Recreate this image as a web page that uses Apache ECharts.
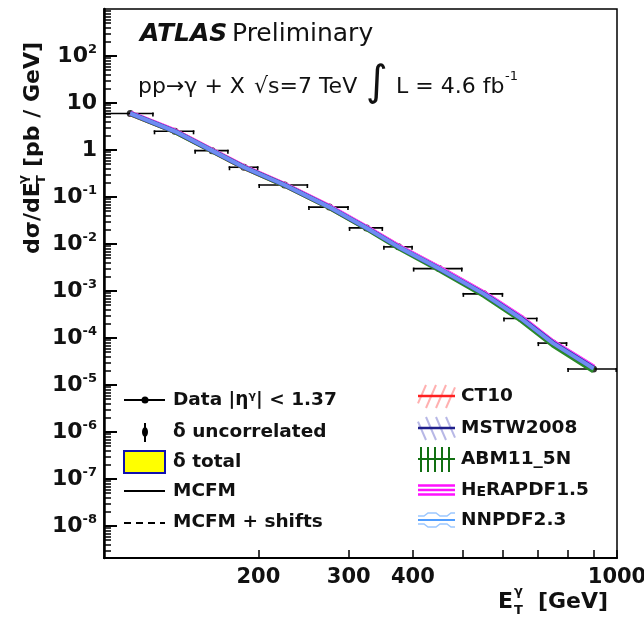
<!DOCTYPE html>
<html><head><meta charset="utf-8">
<script src="https://cdn.jsdelivr.net/npm/echarts@6/dist/echarts.min.js"></script>
<style>html,body{margin:0;padding:0;background:#fff}#c{width:644px;height:622px}</style>
</head><body><div id="c"></div>
<script>
// ---- data ----
const binLow    = [100, 125, 150, 175, 200, 250, 300, 350, 400, 500, 600, 700, 800];
const binHigh   = [125, 150, 175, 200, 250, 300, 350, 400, 500, 600, 700, 800, 1000];
const binCenter = [112.5, 137.5, 162.5, 187.5, 225, 275, 325, 375, 450, 550, 650, 750, 900];
const dataXsec  = [6.0, 2.5, 0.97, 0.43, 0.18, 0.061, 0.022, 0.0087, 0.0030, 8.7e-4, 2.6e-4, 7.8e-5, 2.2e-5];
const ct10      = [6.0, 2.5, 0.97, 0.43, 0.181, 0.0612, 0.0221, 0.0088, 0.00306, 8.9e-4, 2.7e-4, 8.1e-5, 2.35e-5];
const mstw2008  = [6.0, 2.5, 0.97, 0.43, 0.18, 0.061, 0.022, 0.0087, 0.0030, 8.8e-4, 2.65e-4, 8.0e-5, 2.3e-5];
const abm11     = [5.9, 2.45, 0.955, 0.423, 0.177, 0.0595, 0.0213, 0.0083, 0.00282, 8.1e-4, 2.4e-4, 7.1e-5, 2.0e-5];
const herapdf   = [6.05, 2.52, 0.98, 0.435, 0.182, 0.062, 0.0224, 0.0089, 0.0031, 9.0e-4, 2.75e-4, 8.2e-5, 2.4e-5];
const nnpdf     = [6.0, 2.5, 0.97, 0.43, 0.18, 0.061, 0.022, 0.0087, 0.0030, 8.7e-4, 2.6e-4, 7.8e-5, 2.25e-5];

const xTickValues  = [200, 300, 400, 500, 600, 700, 800, 900, 1000];
const xLabelValues = [200, 300, 400, 1000];
const yTickValues  = [1e-8, 1e-7, 1e-6, 1e-5, 1e-4, 1e-3, 1e-2, 1e-1, 1, 10, 100];
const yMin = 2.09e-9, yMax = 1000;

const yMinorTicks = [];
for (let e = -9; e <= 2; e++) for (let m = 2; m <= 9; m++) {
  const v = m * Math.pow(10, e);
  if (v > yMin && v < yMax) yMinorTicks.push(v);
}

const FF = '"DejaVu Sans"';
const chart = echarts.init(document.getElementById('c'), null, {renderer: 'canvas'});

function pts(arr) { return binCenter.map((x, i) => [x, arr[i]]); }
function theory(name, arr, color, width) {
  return {name, type: 'line', data: pts(arr), showSymbol: false, symbol: 'none',
    lineStyle: {color, width}, silent: true, animation: false};
}
function txt(x, y, text, font, align, extra) {
  return Object.assign({type: 'text', x, y, style: {text, font, fill: '#111',
    align: align || 'left', textAlign: align || 'left', verticalAlign: 'middle', textVerticalAlign: 'middle'}}, extra || {});
}
function ln(x1, y1, x2, y2, stroke, w, dash) {
  return {type: 'line', shape: {x1, y1, x2, y2}, style: {stroke, lineWidth: w, lineDash: dash || null}};
}

const L = 124, R = 165, TX = 173;
const RL = 418, RR = 455, RTX = 461;
const graphics = [];
graphics.push(txt(140, 34, 'ATLAS', 'italic bold 25px ' + FF));
graphics.push(txt(232, 34, 'Preliminary', '25px ' + FF));
graphics.push(txt(138, 87, 'pp→γ + X', '22px ' + FF));
graphics.push(txt(254, 87, '√s=7 TeV', '22px ' + FF));
graphics.push(txt(366, 84, '∫', '42px ' + FF));
graphics.push(txt(396, 87, 'L = 4.6 fb', '22px ' + FF));
graphics.push(txt(505, 77, '-1', '13px ' + FF));
graphics.push({type: 'group', x: 33, y: 254, rotation: Math.PI / 2, children: [
  txt(0, 0, 'dσ/dE', 'bold 22px ' + FF),
  txt(70, -9, 'γ', 'bold 13px ' + FF),
  txt(70, 9, 'T', 'bold 13px ' + FF),
  txt(87, 0, '[pb / GeV]', 'bold 22px ' + FF)
]});
graphics.push(txt(498, 602, 'E', 'bold 22px ' + FF));
graphics.push(txt(514, 592, 'γ', 'bold 13px ' + FF));
graphics.push(txt(514, 611, 'T', 'bold 13px ' + FF));
graphics.push(txt(608, 602, '[GeV]', 'bold 22px ' + FF, 'right'));
const LF = 'bold 18.5px ' + FF;
graphics.push(ln(L, 400, R, 400, '#000', 2));
graphics.push({type: 'circle', shape: {cx: 145, cy: 400, r: 3.5}, style: {fill: '#000'}});
graphics.push({type: 'text', x: TX, y: 400, style: {text: 'Data |η{s|γ}| < 1.37', font: LF, fill: '#111',
  align: 'left', textAlign: 'left', verticalAlign: 'middle', textVerticalAlign: 'middle',
  rich: {s: {font: 'bold 11px ' + FF, fill: '#111', verticalAlign: 'top'}}}});
graphics.push(ln(145, 423, 145, 442, '#000', 2));
graphics.push({type: 'ellipse', shape: {cx: 145, cy: 432, rx: 3, ry: 5}, style: {fill: '#000'}});
graphics.push(txt(TX, 432, 'δ uncorrelated', LF));
graphics.push({type: 'rect', shape: {x: L, y: 451, width: 41, height: 22}, style: {fill: '#ffff00', stroke: '#1010b0', lineWidth: 2}});
graphics.push(txt(TX, 462, 'δ total', LF));
graphics.push(ln(L, 491, R, 491, '#000', 2));
graphics.push(txt(TX, 491, 'MCFM', LF));
graphics.push(ln(L, 523, R, 523, '#000', 2, [7, 5]));
graphics.push(txt(TX, 522, 'MCFM + shifts', LF));
for (let x = RL - 2; x < RR; x += 10) graphics.push(ln(Math.max(x, RL), 408 - (Math.max(x, RL) - x) * 2.3, Math.min(x + 10, RR), 385 + Math.max(0, x + 10 - RR) * 2.3, '#ffb0b0', 2));
graphics.push(ln(RL, 396, RR, 396, '#ff2020', 2.5));
graphics.push(txt(RTX, 396, 'CT10', LF));
for (let x = RL - 2; x < RR; x += 10) graphics.push(ln(Math.max(x, RL), 417 + (Math.max(x, RL) - x) * 2.3, Math.min(x + 10, RR), 440 - Math.max(0, x + 10 - RR) * 2.3, '#b8b8e6', 2));
graphics.push(ln(RL, 428, RR, 428, '#20208c', 2.5));
graphics.push(txt(RTX, 428, 'MSTW2008', LF));
[421, 428, 435, 442, 449].forEach(x => graphics.push(ln(x, 447, x, 472, '#127012', 2)));
graphics.push(ln(RL, 459, RR, 459, '#127012', 2));
graphics.push(txt(RTX, 459, 'ABM11_5N', LF));
[485.5, 490, 494.5].forEach(y => graphics.push(ln(RL, y, RR, y, '#ff10ff', 2.6)));
graphics.push({type: 'text', x: RTX, y: 490, style: {text: 'H{e|E}RAPDF1.5', font: LF, fill: '#111',
  align: 'left', textAlign: 'left', verticalAlign: 'middle', textVerticalAlign: 'middle',
  rich: {e: {font: 'bold 14px ' + FF, fill: '#111', verticalAlign: 'bottom'}}}});
graphics.push({type: 'polyline', shape: {points: [[RL,516],[424,516],[428,513],[436,513],[440,516],[447,516],[451,513],[RR,513]]}, style: {stroke: '#9cc8ff', lineWidth: 1.5, fill: null}});
graphics.push({type: 'polyline', shape: {points: [[RL,524],[424,524],[428,527],[436,527],[440,524],[447,524],[451,527],[RR,527]]}, style: {stroke: '#9cc8ff', lineWidth: 1.5, fill: null}});
graphics.push(ln(RL, 520, RR, 520, '#4f9dff', 2));
graphics.push(txt(RTX, 520, 'NNPDF2.3', LF));
// blank margin to the right of the frame (nothing is drawn there in the reference)
graphics.push({type: 'rect', z: 100, silent: true, shape: {x: 618.5, y: 0, width: 30, height: 562}, style: {fill: '#fff'}});

const option = {
  animation: false,
  backgroundColor: '#fff',
  grid: {left: 104, right: 27, top: 9, bottom: 64, show: true, borderColor: '#000', borderWidth: 1.5,
    backgroundColor: 'transparent', containLabel: false, outerBoundsMode: 'none'},
  xAxis: {
    type: 'log', logBase: 10, min: 100, max: 1000,
    axisLine: {show: true, lineStyle: {color: '#000', width: 2}},
    axisTick: {show: true, inside: true, length: 8, lineStyle: {color: '#000', width: 1.5}, customValues: xTickValues},
    axisLabel: {customValues: xLabelValues, formatter: v => String(Math.round(v)), margin: 9,
      fontFamily: 'DejaVu Sans', fontWeight: 'bold', fontSize: 21, color: '#111'},
    splitLine: {show: false}, minorTick: {show: false}
  },
  yAxis: [{
    type: 'log', logBase: 10, min: yMin, max: yMax,
    axisLine: {show: true, lineStyle: {color: '#000', width: 2.5}},
    axisTick: {show: true, inside: true, length: 13, lineStyle: {color: '#000', width: 2}, customValues: yTickValues},
    axisLabel: {customValues: yTickValues, margin: 7,
      formatter: v => {
        const e = Math.round(Math.log10(v));
        if (e === 0) return '{b|1}';
        if (e === 1) return '{b|10}';
        return '{b|10}{s|' + (e < 0 ? '-' + (-e) : e) + '}';
      },
      rich: {
        b: {fontFamily: 'DejaVu Sans', fontWeight: 'bold', fontSize: 22, color: '#111', lineHeight: 26},
        s: {fontFamily: 'DejaVu Sans', fontWeight: 'bold', fontSize: 13, color: '#111', verticalAlign: 'top', lineHeight: 14}
      }
    },
    splitLine: {show: false}, minorTick: {show: false}
  }, {
    type: 'log', logBase: 10, min: yMin, max: yMax, position: 'left',
    axisLine: {show: false},
    axisTick: {show: true, inside: true, length: 7, lineStyle: {color: '#000', width: 1.5}, customValues: yMinorTicks},
    axisLabel: {show: false}, splitLine: {show: false}, minorTick: {show: false}
  }],
  graphic: {elements: graphics},
  series: [
    {
      name: 'bins', type: 'custom', silent: true, clip: true,
      data: binLow.map((lo, i) => [lo, binHigh[i], dataXsec[i]]),
      encode: {x: 0, y: 2},
      renderItem: (params, api) => {
        const cs = params.coordSys;
        const right = cs.x + cs.width;
        const a = api.coord([api.value(0), api.value(2)]);
        const b = api.coord([api.value(1), api.value(2)]);
        const bx = Math.min(b[0], right);
        const st = {stroke: '#000', lineWidth: 1.6};
        return {type: 'group', children: [
          {type: 'line', shape: {x1: a[0], y1: a[1], x2: bx, y2: b[1]}, style: st},
          {type: 'line', shape: {x1: a[0] + 0.8, y1: a[1] - 1, x2: a[0] + 0.8, y2: a[1] + 3}, style: st},
          {type: 'line', shape: {x1: bx - 0.8, y1: b[1] - 1, x2: bx - 0.8, y2: b[1] + 3}, style: st}
        ]};
      }
    },
    {name: 'Data', type: 'scatter', data: pts(dataXsec), symbol: 'circle', symbolSize: 7, itemStyle: {color: '#000'}, silent: true},
    theory('CT10', ct10, '#ff3030', 5.5),
    theory('HERAPDF1.5', herapdf, '#ff40ff', 5.5),
    theory('ABM11_5N', abm11, '#2a8a2a', 5),
    theory('MSTW2008', mstw2008, '#3030b0', 4.5),
    theory('NNPDF2.3', nnpdf, '#6f8cf2', 4)
  ]
};
chart.setOption(option);
</script></body></html>
